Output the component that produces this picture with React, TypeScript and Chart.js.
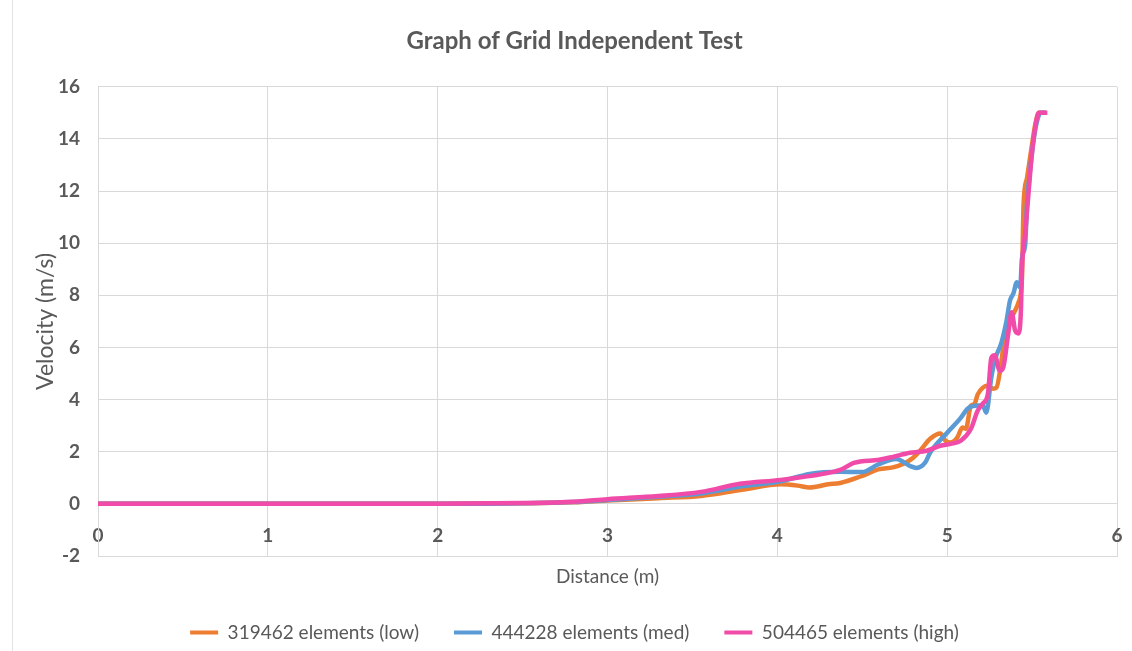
import React, { useEffect, useRef } from "react";
import { Chart, registerables } from "chart.js";

Chart.register(...registerables);

const chartTitle = "Graph of Grid Independent Test";
const xAxisTitle = "Distance (m)";
const yAxisTitle = "Velocity (m/s)";
const seriesNames = ["319462 elements (low)", "444228 elements (med)", "504465 elements (high)"];
const seriesColors = ["#ED7D31", "#5B9BD5", "#F04BA8"];

const lowX = [0, 1, 2, 2.5, 2.8, 3.0, 3.3, 3.55, 3.8, 4.02, 4.12, 4.19, 4.3, 4.37, 4.49, 4.6, 4.68, 4.74, 4.8, 4.84, 4.9, 4.96, 4.99, 5.02, 5.06, 5.09, 5.11, 5.14, 5.16, 5.18, 5.21, 5.24, 5.27, 5.29, 5.32, 5.34, 5.37, 5.4, 5.42, 5.44, 5.45, 5.47, 5.5, 5.52, 5.54, 5.58];
const lowV = [0, 0, 0, 0.02, 0.06, 0.13, 0.22, 0.3, 0.55, 0.75, 0.7, 0.63, 0.75, 0.8, 1.05, 1.33, 1.4, 1.53, 1.77, 2.04, 2.5, 2.7, 2.42, 2.35, 2.55, 2.93, 2.88, 3.77, 3.83, 4.2, 4.46, 4.54, 4.42, 4.46, 5.5, 6.54, 7.04, 7.42, 7.73, 8.6, 11.5, 12.5, 13.8, 14.6, 15.0, 15.0];

const medX = [0, 1, 2, 2.5, 2.8, 3.0, 3.3, 3.55, 3.8, 4.02, 4.19, 4.37, 4.5, 4.59, 4.7, 4.78, 4.82, 4.87, 4.9, 5.0, 5.08, 5.12, 5.18, 5.21, 5.23, 5.26, 5.28, 5.32, 5.35, 5.37, 5.39, 5.41, 5.43, 5.44, 5.46, 5.47, 5.49, 5.51, 5.53, 5.55, 5.58];
const medV = [0, 0, 0, 0.02, 0.07, 0.15, 0.27, 0.4, 0.68, 0.87, 1.15, 1.23, 1.22, 1.5, 1.72, 1.46, 1.38, 1.58, 1.97, 2.73, 3.3, 3.65, 3.77, 3.77, 3.5, 4.85, 5.5, 6.2, 7.04, 7.8, 8.07, 8.5, 8.3, 9.4, 10.0, 11.5, 12.9, 14.0, 14.7, 15.0, 15.0];

const highX = [0, 1, 2, 2.5, 2.8, 3.0, 3.3, 3.55, 3.78, 4.02, 4.27, 4.37, 4.45, 4.6, 4.68, 4.78, 4.88, 4.96, 5.02, 5.08, 5.14, 5.18, 5.21, 5.24, 5.26, 5.28, 5.31, 5.33, 5.36, 5.38, 5.4, 5.42, 5.435, 5.44, 5.46, 5.48, 5.5, 5.52, 5.54, 5.59];
const highV = [0, 0, 0, 0.03, 0.08, 0.18, 0.3, 0.46, 0.77, 0.92, 1.15, 1.3, 1.57, 1.69, 1.8, 1.96, 2.04, 2.23, 2.3, 2.42, 2.88, 3.58, 3.85, 4.23, 5.6, 5.7, 5.1, 5.23, 6.54, 7.35, 6.65, 6.54, 7.54, 8.96, 10.4, 12.0, 13.5, 14.5, 15.0, 15.0];

const xMin = 0, xMax = 6, xStep = 1;
const yMin = -2, yMax = 16, yStep = 2;

const FONT = "Lato, 'Open Sans', sans-serif";
const TEXT = "#595959";
const GRID = "#d9d9d9";

function pts(xs: number[], vs: number[]) {
  return xs.map((x, i) => ({ x, y: vs[i] }));
}

export default function App() {
  const ref = useRef<HTMLCanvasElement | null>(null);
  useEffect(() => {
    if (!ref.current) return;
    const series = [pts(lowX, lowV), pts(medX, medV), pts(highX, highV)];
    const chart = new Chart(ref.current, {
      type: "line",
      data: {
        datasets: series.map((d, i) => ({
          label: seriesNames[i],
          data: d,
          borderColor: seriesColors[i],
          backgroundColor: seriesColors[i],
          borderWidth: 4.5,
          pointRadius: 0,
          cubicInterpolationMode: "monotone",
          order: 2 - i,
        })),
      },
      options: {
        animation: false,
        responsive: false,
        maintainAspectRatio: false,
        layout: { padding: { left: 32, right: 15, top: 0, bottom: -1 } },
        plugins: {
          title: {
            display: true,
            text: chartTitle,
            color: TEXT,
            font: { family: FONT, size: 24, weight: "bold" },
            padding: { top: 27, bottom: 31 },
          },
          legend: {
            position: "bottom",
            labels: {
              color: TEXT,
              font: { family: FONT, size: 19 },
              boxWidth: 28,
              boxHeight: 4,
              padding: 35,
              sort: (a: any, b: any) => a.datasetIndex - b.datasetIndex,
              generateLabels: (c: any) =>
                Chart.defaults.plugins.legend.labels.generateLabels(c).map((l: any) => ({ ...l, lineWidth: 0 })),
            },
          },
          tooltip: { enabled: false },
        },
        scales: {
          x: {
            type: "linear",
            min: xMin,
            max: xMax,
            ticks: {
              stepSize: xStep,
              color: TEXT,
              font: { family: FONT, size: 19, weight: "bold" },
              mirror: true,
              padding: 9,
            },
            grid: { color: GRID, drawTicks: false, lineWidth: 1 },
            border: { color: GRID },
            title: {
              display: true,
              text: xAxisTitle,
              color: TEXT,
              font: { family: FONT, size: 19 },
              padding: { top: 0, bottom: 0 },
            },
            afterFit: (s: any) => {
              s.height = 32;
            },
          },
          y: {
            min: yMin,
            max: yMax,
            ticks: {
              stepSize: yStep,
              color: TEXT,
              font: { family: FONT, size: 19, weight: "bold" },
              padding: 18,
            },
            grid: { color: GRID, drawTicks: false, lineWidth: 1 },
            border: { color: GRID },
            title: {
              display: true,
              text: yAxisTitle,
              color: TEXT,
              font: { family: FONT, size: 23 },
              padding: 0,
            },
            afterFit: (s: any) => {
              s.width = 66;
            },
          },
        },
      } as any,
    });
    return () => chart.destroy();
  }, []);

  return (
    <div style={{ position: "fixed", left: 0, top: 0, width: 1132, height: 651, background: "#fff", overflow: "hidden" }}>
      <div style={{ position: "absolute", left: 12, top: 0, width: 0, height: 651, borderLeft: "1px solid #e3e3e3" }} />
      <canvas ref={ref} width={1132} height={651} style={{ position: "absolute", left: 0, top: 0, width: 1132, height: 651 }} />
    </div>
  );
}
